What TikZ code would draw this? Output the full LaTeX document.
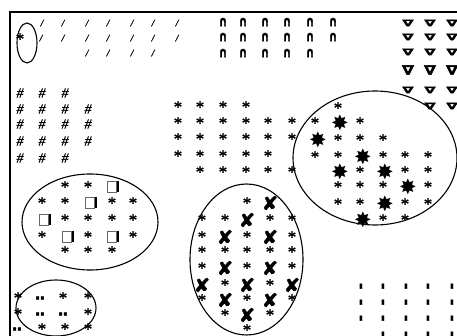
\documentclass[tikz,border=0pt]{standalone}
\usepackage{fontspec}
\newfontfamily\dvs{DejaVu Sans}
\newfontfamily\dvsbold[FakeBold=3]{DejaVu Sans Bold}
\newfontfamily\dvsfc[FakeBold=2]{DejaVu Sans}
\newfontfamily\lsrb[FakeBold=1.2]{Liberation Serif}
\newfontfamily\lsrib[FakeBold=1]{Liberation Serif Italic}
\tikzset{
  sym/.style={inner sep=0pt, outer sep=0pt},
  ast/.style={sym, font=\lsrb\fontsize{17}{17}\selectfont},
  bigstar/.style={sym, font=\dvs\fontsize{21}{21}\selectfont},
  xmark/.style={sym, font=\dvsfc\fontsize{19}{19}\selectfont},
  boxmark/.style={sym, draw=black!60, line width=0.7pt, minimum width=9pt, minimum height=11pt},
  dotpair/.style={sym, font=\dvsbold\fontsize{14}{14}\selectfont},
  arch/.style={sym, font=\dvsbold\fontsize{19}{19}\selectfont},
  tri/.style={sym, font=\dvsbold\fontsize{20}{20}\selectfont},
  hashmark/.style={sym, font=\lsrib\fontsize{14}{14}\selectfont},
  slashmark/.style={sym, font=\lsrib\fontsize{10}{10}\selectfont},
  barmark/.style={sym, font=\dvs\fontsize{7}{7}\selectfont},
  ring/.style={draw, line width=1.1pt},
}
\begin{document}
\begin{tikzpicture}[x=1pt,y=-1pt]
\useasboundingbox (0,0) rectangle (457,336);
\draw[line width=1.6pt] (10,336) -- (10,12) -- (457,12);
% slashes
\foreach \x/\y in {42/23,63/23,87/23,108/23,132/23,153/23,177/23,
  41/38,63/38,87/38,108/38,132/38,153/38,177/38,
  87/53,108/53,132/53,153/53}
  \node[slashmark] (sl-\x-\y) at (\x,\y) {/};
% arches
\foreach \x/\y in {223/22,243/22,265/22,287/22,310/22,333/22,
  223/37,243/37,265/37,287/37,310/37,333/37,
  223/53,243/53,265/53,287/53,310/53}
  \node[arch] (ar-\x-\y) at (\x,\y) {\scalebox{0.55}[0.75]{∩}};
% triangles
\foreach \x/\y in {408/23,430/23,452/23,408/37,430/37,452/37,408/52,430/52,452/52,
  408/90,430/90,452/90,430/106,452/106}
  \node[tri] (tr-\x-\y) at (\x,\y) {\scalebox{0.8}[0.45]{∇}};
\foreach \x/\y in {408/70,430/70,452/70}
  \node[tri] (tr-\x-\y) at (\x,\y) {\scalebox{0.85}[0.65]{∇}};
% hashes
\foreach \x/\y in {20/93,42/93,65/93,
  20/109,42/109,65/109,88/109,
  20/124,42/124,65/124,88/124,
  20/141,42/141,65/141,88/141,
  20/158,42/158,65/158}
  \node[hashmark] (hs-\x-\y) at (\x,\y) {\#};
% asterisks
\foreach \x/\y in {20/39,
  178/107,200/107,223/107,246/107,
  178/123,200/123,223/123,246/123,268/123,292/123,
  178/139,200/139,223/139,246/139,268/139,292/139,
  178/156,200/156,223/156,246/156,268/156,
  200/172,223/172,246/172,268/172,292/172,
  338/108,315/123,360/123,338/140,360/140,383/140,
  315/157,338/157,383/157,405/157,428/157,
  360/172,405/172,428/172,338/187,360/187,383/187,428/187,
  338/204,360/204,405/204,428/204,383/220,405/220,
  65/187,88/187,42/203,65/203,112/203,133/203,
  65/220,88/220,112/220,133/220,42/237,88/237,133/237,
  65/252,88/252,112/252,
  247/203,202/220,225/220,270/220,292/220,
  202/237,247/237,292/237,
  202/252,225/252,247/252,270/252,292/252,
  202/268,247/268,292/268,225/285,270/285,
  202/300,247/300,292/300,225/315,270/315,247/330,
  18/298,63/298,88/298,18/314,88/314,42/329,65/329,88/329}
  \node[ast] (as-\x-\y) at (\x,\y) {*};
% big stars
\foreach \x/\y in {340/123,318/140,363/157,340/172,385/172,408/187,385/204,363/220}
  \node[bigstar] (bs-\x-\y) at (\x,\y) {✸};
% crosses
\foreach \x/\y in {270/203,247/220,225/237,270/237,225/268,270/268,
  202/285,247/285,292/285,225/300,270/300,247/315}
  \node[xmark] (xm-\x-\y) at (\x,\y) {✘};
% shadowed boxes
\foreach \x/\y in {112/187,90/203,44/220,67/237,112/237}{
  \node[boxmark] (bx-\x-\y) at (\x,\y) {};
  \draw[line width=2.6pt] ([xshift=1.3pt]bx-\x-\y.north east) -- ([xshift=1.3pt]bx-\x-\y.south east);
}
% dot pairs
\foreach \x/\y in {40/298,40/314,63/314,17/329}
  \node[dotpair] (dp-\x-\y) at (\x,\y) {‥};
% bars
\foreach \x/\y in {361/287,383/287,406/287,428/287,452/287,
  361/303,383/303,406/303,428/303,452/303,
  361/319,383/319,406/319,428/319,452/319,
  383/335,406/335,428/335,452/335}
  \node[barmark] (br-\x-\y) at (\x,\y) {▮};
% ellipses
\draw[ring] (27,43) ellipse [x radius=10pt, y radius=20pt];
\draw[ring] (375,158) ellipse [x radius=82pt, y radius=67pt];
\draw[ring] (90,222) ellipse [x radius=68pt, y radius=48pt];
\draw[ring] (246.5,259.5) ellipse [x radius=56.5pt, y radius=75.5pt];
\draw[ring] (56,308) ellipse [x radius=40pt, y radius=28pt];
\end{tikzpicture}
\end{document}
